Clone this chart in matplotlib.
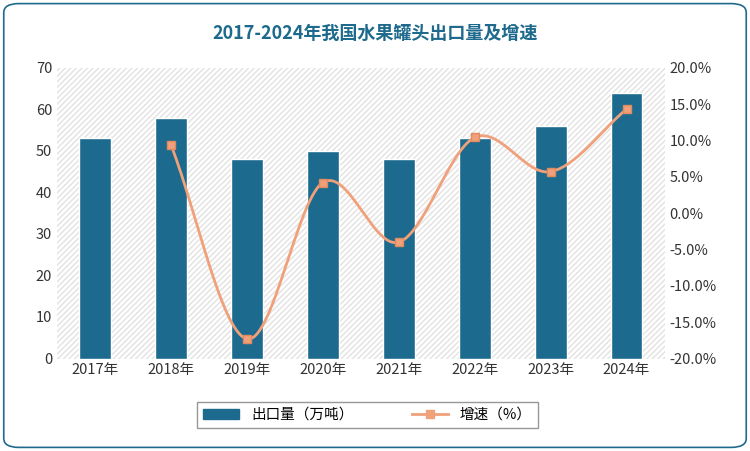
import numpy as np
import matplotlib.pyplot as plt
from matplotlib import font_manager
from matplotlib.patches import FancyBboxPatch

cjk = sorted({f.name for f in font_manager.fontManager.ttflist if "CJK" in f.name})
plt.rcParams["font.family"] = "sans-serif"
plt.rcParams["font.sans-serif"] = (["Noto Sans CJK SC"] if "Noto Sans CJK SC" in cjk else cjk) + ["DejaVu Sans"]
plt.rcParams["hatch.linewidth"] = 1.0

years = ["2017年", "2018年", "2019年", "2020年", "2021年", "2022年", "2023年", "2024年"]
export_vol = [53, 58, 48, 50, 48, 53, 56, 64]
growth = [None, 9.4, -17.3, 4.2, -4.0, 10.4, 5.7, 14.3]


def catmull_rom(xs, ys, n=30):
    xs, ys = np.asarray(xs, float), np.asarray(ys, float)
    px = np.concatenate([[2 * xs[0] - xs[1]], xs, [2 * xs[-1] - xs[-2]]])
    py = np.concatenate([[2 * ys[0] - ys[1]], ys, [2 * ys[-1] - ys[-2]]])
    ox, oy = [], []
    t = np.linspace(0, 1, n)
    for i in range(1, len(px) - 2):
        for p, out in ((px, ox), (py, oy)):
            p0, p1, p2, p3 = p[i - 1], p[i], p[i + 1], p[i + 2]
            out.extend(0.5 * (2 * p1 + (-p0 + p2) * t + (2 * p0 - 5 * p1 + 4 * p2 - p3) * t ** 2
                              + (-p0 + 3 * p1 - 3 * p2 + p3) * t ** 3))
    return ox, oy


fig = plt.figure(figsize=(7.5, 4.51), dpi=100)
fig.patches.append(FancyBboxPatch((0.005, 0.008), 0.99, 0.984, boxstyle="round,pad=0,rounding_size=0.02",
                                  transform=fig.transFigure, fill=False, ec="#1e6a8d", lw=1.2, zorder=-5))
fig.text(0.5, 0.925, "2017-2024年我国水果罐头出口量及增速", ha="center", va="center",
         fontsize=13, fontweight="bold", color="#1e6a8d")

ax = fig.add_axes([0.076, 0.205, 0.81, 0.645])
ax.patch.set_facecolor("white")
ax.patch.set_hatch("//////")
ax.patch.set_edgecolor("#e2e2e2")
ax.patch.set_linewidth(0)
x = np.arange(len(years))
ax.bar(x, export_vol, width=0.42, color="#1c6b8e", edgecolor="white", lw=1.0, zorder=3)
ax.set_ylim(0, 70)
ax.set_yticks(range(0, 71, 10))
ax.set_xlim(-0.5, 7.5)
ax.set_xticks(x)
ax.set_xticklabels(years)
for s in ax.spines.values():
    s.set_visible(False)
ax.tick_params(length=0, labelsize=10.5, colors="#333333")

ax2 = ax.twinx()
gx = [i for i, g in enumerate(growth) if g is not None]
gy = [g for g in growth if g is not None]
sx, sy = catmull_rom(gx, gy)
ax2.plot(sx, sy, color="#f0a07a", lw=2)
ax2.plot(gx, gy, ls="none", marker="s", ms=6, color="#f0a07a", mec="#e08a60")
ax2.set_ylim(-20, 20)
ax2.set_yticks(range(-20, 21, 5))
ax2.set_yticklabels([f"{v:.1f}%" for v in range(-20, 21, 5)])
ax2.tick_params(length=0, labelsize=10.5, colors="#333333")
for s in ax2.spines.values():
    s.set_visible(False)

h1 = plt.Rectangle((0, 0), 1, 1, color="#1c6b8e")
h2 = plt.Line2D([], [], color="#f0a07a", lw=2, marker="s", ms=6)
fig.legend([h1, h2], ["出口量（万吨）", "增速（%）"], loc="center", bbox_to_anchor=(0.49, 0.08),
           ncol=2, frameon=True, edgecolor="#7f7f7f", fancybox=False, fontsize=10.5,
           columnspacing=4, handlelength=2.5)

fig.savefig("out.png", dpi=100)
